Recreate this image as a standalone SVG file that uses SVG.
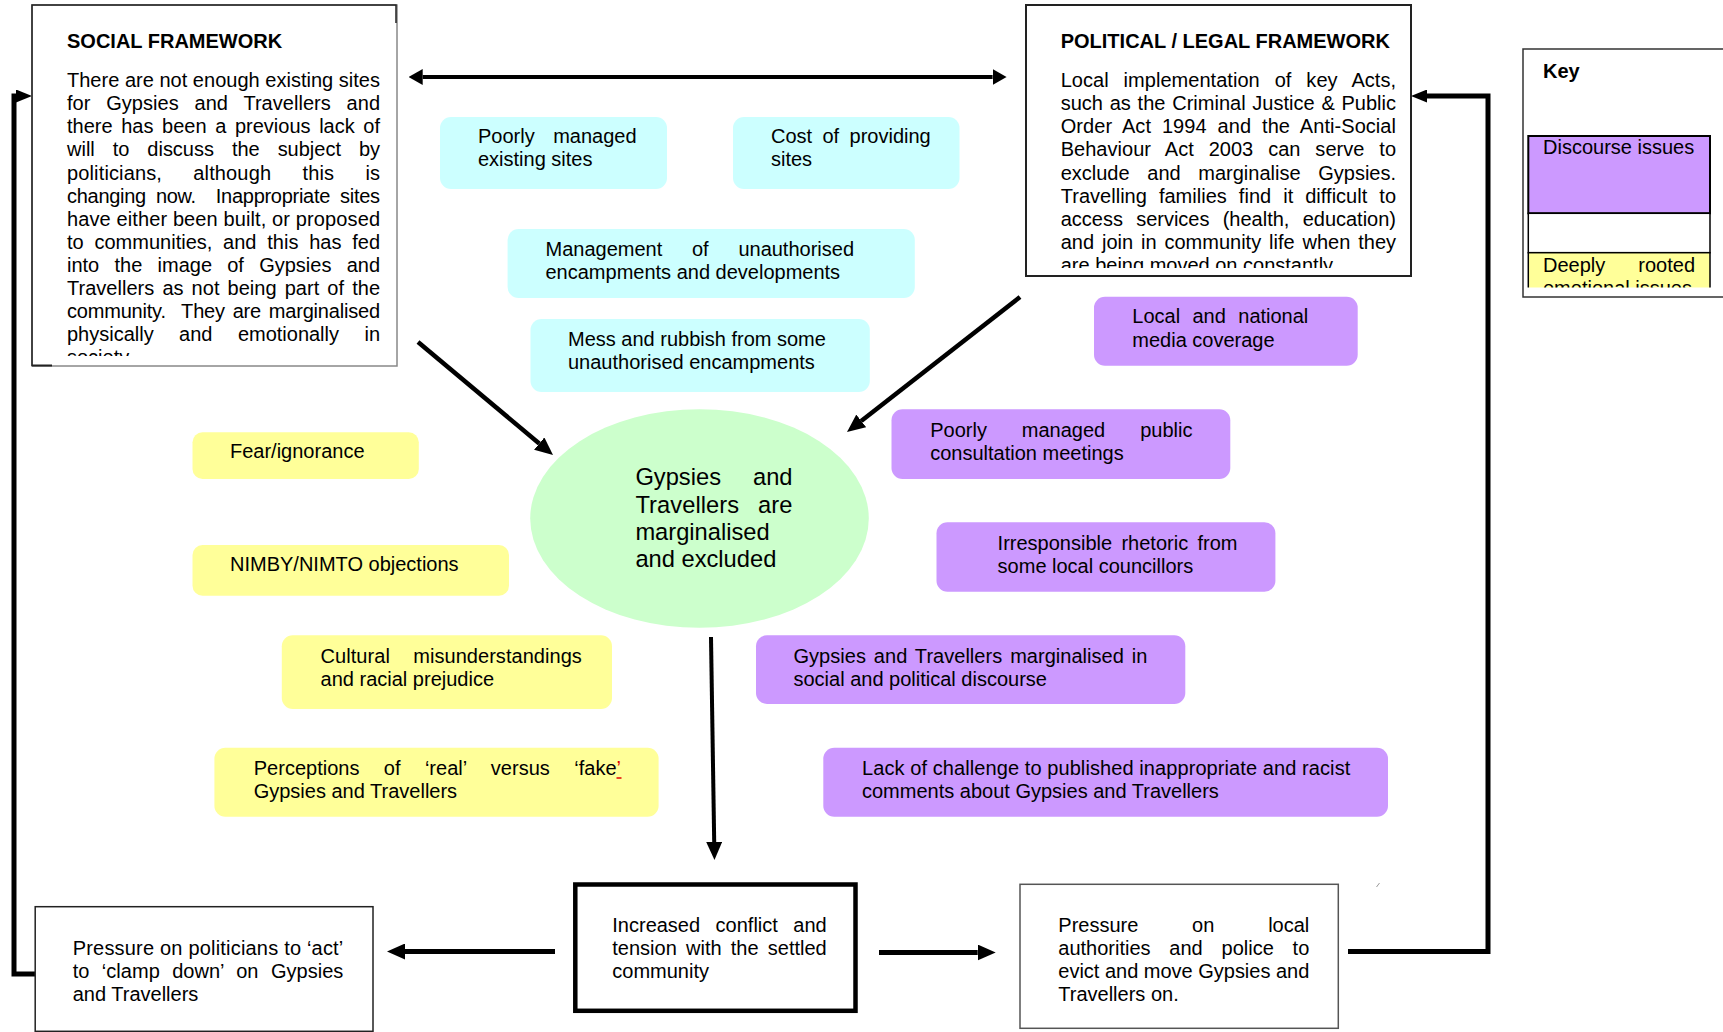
<svg xmlns="http://www.w3.org/2000/svg" width="1723" height="1032" viewBox="0 0 1723 1032">
<style>
text{font-family:"Liberation Sans",Arial,sans-serif;font-size:20px;fill:#000}
.b{font-weight:bold}
.big{font-size:23.7px}
.cy{fill:#CCFFFF}
.ye{fill:#FFFF99}
.pu{fill:#CC99FF}
.gr{fill:#CCFFCC}
.conn{fill:none;stroke:#000}
</style>
<defs>
<marker id="ah" markerUnits="userSpaceOnUse" markerWidth="18" markerHeight="16" viewBox="0 0 18 16" refX="0" refY="8" orient="auto"><path d="M0,0 L18,8 L0,16 z" fill="#000"/></marker>
<marker id="ahT" markerUnits="userSpaceOnUse" markerWidth="14" markerHeight="16" viewBox="0 0 14 16" refX="0" refY="8" orient="auto-start-reverse"><path d="M0,0 L14,8 L0,16 z" fill="#000"/></marker>
<marker id="ahL" markerUnits="userSpaceOnUse" markerWidth="16" markerHeight="13" viewBox="0 0 16 13" refX="0" refY="6.5" orient="auto"><path d="M0,0 L16,6.5 L0,13 z" fill="#000"/></marker>
<clipPath id="cSoc"><rect x="30" y="0" width="370" height="356"/></clipPath>
<clipPath id="cPol"><rect x="1024" y="0" width="390" height="268"/></clipPath>
<clipPath id="cKey"><rect x="1520" y="40" width="210" height="247.5"/></clipPath>
</defs>

<g id="connectors">
<path class="conn" stroke-width="4" d="M422.7,77 H992.6" marker-start="url(#ahT)" marker-end="url(#ahT)"/>
<path class="conn" stroke-width="4.5" d="M418,342 L539.2,443.5" marker-end="url(#ah)"/>
<path class="conn" stroke-width="4.5" d="M1020,297 L861.2,420.9" marker-end="url(#ah)"/>
<path class="conn" stroke-width="4" d="M711,637 L714.2,842" marker-end="url(#ah)"/>
<path class="conn" stroke-width="5" d="M555,951.5 H405" marker-end="url(#ah)"/>
<path class="conn" stroke-width="5" d="M879,952.5 H977.7" marker-end="url(#ah)"/>
<path class="conn" stroke-width="5" d="M35,974 H14 V96 H16" marker-end="url(#ahL)"/>
<path class="conn" stroke-width="5" d="M1348,951.5 H1488 V96 H1427" marker-end="url(#ahL)"/>
<path d="M1376.5,887 L1379.5,883" stroke="#999" stroke-width="1" fill="none"/>
</g>

<g id="social">
<rect x="32" y="5" width="365" height="361" fill="#fff" stroke="#888" stroke-width="1.5"/>
<path d="M32,366 V5 H396 V23" fill="none" stroke="#222" stroke-width="1.5"/>
<path d="M32,365.5 H52" stroke="#222" stroke-width="2"/>
<text class="b" x="67" y="48">SOCIAL FRAMEWORK</text>
<g clip-path="url(#cSoc)">
<text x="67" y="87.3" textLength="313" lengthAdjust="spacing">There are not enough existing sites</text>
<text x="67" y="110.3" textLength="313" lengthAdjust="spacing" style="word-spacing:10.2px">for Gypsies and Travellers and</text>
<text x="67" y="133.4" textLength="313" lengthAdjust="spacing" style="word-spacing:3.1px">there has been a previous lack of</text>
<text x="67" y="156.4" textLength="313" lengthAdjust="spacing" style="word-spacing:12.4px">will to discuss the subject by</text>
<text x="67" y="179.5" textLength="313" lengthAdjust="spacing" style="word-spacing:25.6px">politicians, although this is</text>
<text x="67" y="202.5" textLength="313" lengthAdjust="spacing" xml:space="preserve" style="word-spacing:4.7px">changing now.  Inappropriate sites</text>
<text x="67" y="225.5" textLength="313" lengthAdjust="spacing">have either been built, or proposed</text>
<text x="67" y="248.6" textLength="313" lengthAdjust="spacing" style="word-spacing:5.2px">to communities, and this has fed</text>
<text x="67" y="271.6" textLength="313" lengthAdjust="spacing" style="word-spacing:9.7px">into the image of Gypsies and</text>
<text x="67" y="294.7" textLength="313" lengthAdjust="spacing" style="word-spacing:2.5px">Travellers as not being part of the</text>
<text x="67" y="317.7" textLength="313" lengthAdjust="spacing" xml:space="preserve" style="word-spacing:2.5px">community.  They are marginalised</text>
<text x="67" y="340.7" textLength="313" lengthAdjust="spacing" style="word-spacing:19.9px">physically and emotionally in</text>
<text x="67" y="363.8">society.</text>
</g>
</g>

<g id="political">
<rect x="1026" y="5" width="385" height="271" fill="#fff" stroke="#222" stroke-width="2"/>
<text class="b" x="1060.7" y="48">POLITICAL / LEGAL FRAMEWORK</text>
<g clip-path="url(#cPol)">
<text x="1060.7" y="87.3" textLength="335.3" lengthAdjust="spacing" style="word-spacing:9.35px">Local implementation of key Acts,</text>
<text x="1060.7" y="110.3" textLength="335.3" lengthAdjust="spacing" style="word-spacing:1.2px">such as the Criminal Justice &amp; Public</text>
<text x="1060.7" y="133.4" textLength="335.3" lengthAdjust="spacing" style="word-spacing:5.3px">Order Act 1994 and the Anti-Social</text>
<text x="1060.7" y="156.4" textLength="335.3" lengthAdjust="spacing" style="word-spacing:9.3px">Behaviour Act 2003 can serve to</text>
<text x="1060.7" y="179.5" textLength="335.3" lengthAdjust="spacing" style="word-spacing:12.1px">exclude and marginalise Gypsies.</text>
<text x="1060.7" y="202.5" textLength="335.3" lengthAdjust="spacing" style="word-spacing:6.4px">Travelling families find it difficult to</text>
<text x="1060.7" y="225.5" textLength="335.3" lengthAdjust="spacing" style="word-spacing:7.7px">access services (health, education)</text>
<text x="1060.7" y="248.6" textLength="335.3" lengthAdjust="spacing" style="word-spacing:2.35px">and join in community life when they</text>
<text x="1060.7" y="271.6">are being moved on constantly</text>
</g>
</g>

<g id="key">
<rect x="1523" y="49" width="260" height="248" fill="#fff" stroke="#333" stroke-width="1.5"/>
<text class="b" x="1543" y="78">Key</text>
<g clip-path="url(#cKey)">
<rect x="1528.3" y="136" width="181.7" height="77.3" class="pu" stroke="#000" stroke-width="2"/>
<rect x="1528.3" y="213.3" width="181.7" height="39.4" fill="#fff" stroke="#000" stroke-width="1.5"/>
<rect x="1528.3" y="252.7" width="181.7" height="60" class="ye" stroke="#000" stroke-width="1.5"/>
<text x="1543" y="154">Discourse issues</text>
<text x="1543" y="271.7" textLength="152" lengthAdjust="spacing" style="word-spacing:27.5px">Deeply rooted</text>
<text x="1543" y="294.7">emotional issues</text>
</g>
</g>

<g id="n-poorly-sites">
<rect class="cy" x="440" y="117" width="227" height="72" rx="11"/>
<text x="478" y="143" textLength="158.5" lengthAdjust="spacing" style="word-spacing:12.9px">Poorly managed</text>
<text x="478" y="166">existing sites</text>
</g>
<g id="n-cost">
<rect class="cy" x="733" y="117" width="226.5" height="72" rx="11"/>
<text x="771" y="143" textLength="159.7" lengthAdjust="spacing" style="word-spacing:4.8px">Cost of providing</text>
<text x="771" y="166">sites</text>
</g>
<g id="n-management">
<rect class="cy" x="507.6" y="229" width="407.2" height="69" rx="11"/>
<text x="545.5" y="256" textLength="308.5" lengthAdjust="spacing" style="word-spacing:24.2px">Management of unauthorised</text>
<text x="545.5" y="279">encampments and developments</text>
</g>
<g id="n-mess">
<rect class="cy" x="530.5" y="319" width="339.3" height="73" rx="11"/>
<text x="568" y="346">Mess and rubbish from some</text>
<text x="568" y="369">unauthorised encampments</text>
</g>

<g id="n-fear">
<rect class="ye" x="192.5" y="432.3" width="226.3" height="46.7" rx="10"/>
<text x="230" y="458.3">Fear/ignorance</text>
</g>
<g id="n-nimby">
<rect class="ye" x="192.5" y="545" width="316.5" height="50.7" rx="10"/>
<text x="230" y="571">NIMBY/NIMTO objections</text>
</g>
<g id="n-cultural">
<rect class="ye" x="281.8" y="635.3" width="330.2" height="73.7" rx="11"/>
<text x="320.6" y="663.3" textLength="261.2" lengthAdjust="spacing" style="word-spacing:17.8px">Cultural misunderstandings</text>
<text x="320.6" y="686">and racial prejudice</text>
</g>
<g id="n-perceptions">
<rect class="ye" x="214.4" y="747.7" width="444.2" height="69" rx="11"/>
<text x="253.7" y="775" textLength="367.3" lengthAdjust="spacing" style="word-spacing:18.75px">Perceptions of ‘real’ versus ‘fake<tspan fill="#e00000">’</tspan></text>
<path d="M616.5,778 H621.5" stroke="#e00000" stroke-width="1.5"/>
<text x="253.7" y="798.3">Gypsies and Travellers</text>
</g>

<g id="n-center">
<ellipse class="gr" cx="699.5" cy="518.5" rx="169.3" ry="109.3"/>
<text class="big" x="635.4" y="485" textLength="157.1" lengthAdjust="spacing" style="word-spacing:25.4px">Gypsies and</text>
<text class="big" x="635.4" y="512.5" textLength="157.1" lengthAdjust="spacing" style="word-spacing:12.2px">Travellers are</text>
<text class="big" x="635.4" y="540">marginalised</text>
<text class="big" x="635.4" y="567">and excluded</text>
</g>

<g id="n-media">
<rect class="pu" x="1094" y="296.7" width="263.7" height="69" rx="11"/>
<text x="1132.3" y="323.3" textLength="176" lengthAdjust="spacing" style="word-spacing:6.85px">Local and national</text>
<text x="1132.3" y="346.7">media coverage</text>
</g>
<g id="n-consultation">
<rect class="pu" x="891.5" y="409.3" width="338.8" height="69.7" rx="11"/>
<text x="930.2" y="436.7" textLength="262.2" lengthAdjust="spacing" style="word-spacing:29.4px">Poorly managed public</text>
<text x="930.2" y="460">consultation meetings</text>
</g>
<g id="n-rhetoric">
<rect class="pu" x="936.5" y="522.3" width="338.9" height="69.4" rx="11"/>
<text x="997.6" y="550" textLength="239.9" lengthAdjust="spacing" style="word-spacing:3.8px">Irresponsible rhetoric from</text>
<text x="997.6" y="572.7">some local councillors</text>
</g>
<g id="n-discourse">
<rect class="pu" x="756" y="635.3" width="429.3" height="68.7" rx="11"/>
<text x="793.5" y="663.3" textLength="353.9" lengthAdjust="spacing" style="word-spacing:2.35px">Gypsies and Travellers marginalised in</text>
<text x="793.5" y="686">social and political discourse</text>
</g>
<g id="n-challenge">
<rect class="pu" x="823.3" y="747.7" width="564.7" height="69" rx="11"/>
<text x="862" y="775" textLength="488.3" lengthAdjust="spacing">Lack of challenge to published inappropriate and racist</text>
<text x="862" y="798">comments about Gypsies and Travellers</text>
</g>

<g id="n-politicians">
<rect x="35.2" y="906.7" width="337.8" height="124.6" fill="#fff" stroke="#222" stroke-width="1.5"/>
<text x="72.7" y="955" textLength="270.6" lengthAdjust="spacing">Pressure on politicians to ‘act’</text>
<text x="72.7" y="978" textLength="270.6" lengthAdjust="spacing" style="word-spacing:6.8px">to ‘clamp down’ on Gypsies</text>
<text x="72.7" y="1001">and Travellers</text>
</g>
<g id="n-conflict">
<rect x="575.3" y="884.5" width="280.2" height="126.3" fill="#fff" stroke="#000" stroke-width="4.5"/>
<text x="612.3" y="931.7" textLength="214.4" lengthAdjust="spacing" style="word-spacing:9.95px">Increased conflict and</text>
<text x="612.3" y="954.7" textLength="214.4" lengthAdjust="spacing" style="word-spacing:3.67px">tension with the settled</text>
<text x="612.3" y="977.7">community</text>
</g>
<g id="n-authorities">
<rect x="1020" y="884.3" width="318.3" height="144" fill="#fff" stroke="#555" stroke-width="1.5"/>
<text x="1058.3" y="931.7" textLength="251" lengthAdjust="spacing" style="word-spacing:48.25px">Pressure on local</text>
<text x="1058.3" y="954.7" textLength="251" lengthAdjust="spacing" style="word-spacing:13.3px">authorities and police to</text>
<text x="1058.3" y="977.7" textLength="251" lengthAdjust="spacing">evict and move Gypsies and</text>
<text x="1058.3" y="1000.7">Travellers on.</text>
</g>
</svg>
